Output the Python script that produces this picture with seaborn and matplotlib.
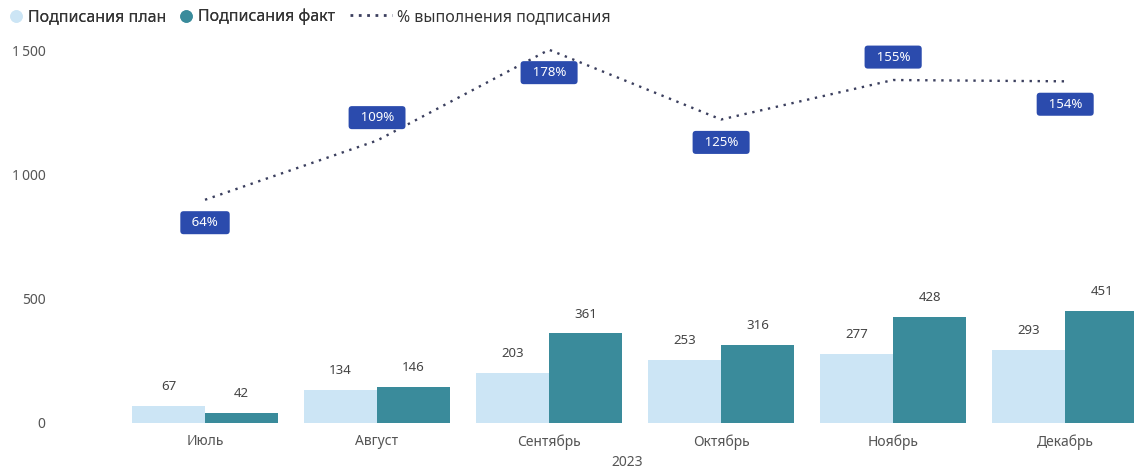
import numpy as np
import pandas as pd
import matplotlib
matplotlib.use("Agg")
import matplotlib.pyplot as plt
from matplotlib.lines import Line2D
import seaborn as sns

months = ["Июль", "Август", "Сентябрь", "Октябрь", "Ноябрь", "Декабрь"]
plan = [67, 134, 203, 253, 277, 293]
fact = [42, 146, 361, 316, 428, 451]
pct = [0.64, 1.09, 1.78, 1.25, 1.55, 1.54]
year_label = "2023"
series_names = ["Подписания план", "Подписания факт", "% выполнения подписания"]
y_ticks = [0, 500, 1000, 1500]
y_tick_labels = ["0", "500", "1\u2009000", "1\u2009500"]

# style
plan_color = "#cce5f5"
fact_color = "#3a8b9b"
line_color = "#3b3f5e"
box_color = "#2b4bad"
label_side = [-1, 1, -1, -1, 1, -1]  # +1 above, -1 below

sns.set_theme(style="white")
plt.rcParams["font.family"] = ["Noto Sans", "DejaVu Sans"]

df = pd.DataFrame({
    "month": months * 2,
    "value": plan + fact,
    "series": [series_names[0]] * len(months) + [series_names[1]] * len(months),
})

fig = plt.figure(figsize=(11.34, 4.70), dpi=100)
ax = fig.add_axes([55 / 1134, 47 / 470, (1134 - 55) / 1134, (423 - 45) / 470])

sns.barplot(data=df, x="month", y="value", hue="series", order=months,
            hue_order=series_names[:2], palette=[plan_color, fact_color],
            width=0.85, gap=0, saturation=1, linewidth=0, ax=ax, legend=False)

for cont in ax.containers:
    for rect in cont:
        h = rect.get_height()
        ax.annotate(f"{h:.0f}", (rect.get_x() + rect.get_width() / 2, h),
                    xytext=(0, 14), textcoords="offset points",
                    ha="center", va="center", fontsize=9.5, color="#444444")

ax.set_xlim(-0.872, 5.40)
ax.set_ylim(0, 1524)
ax.set_yticks(y_ticks)
ax.set_yticklabels(y_tick_labels)
ax.tick_params(axis="y", length=0, pad=7, labelsize=10, labelcolor="#555555")
ax.tick_params(axis="x", length=0, pad=8, labelsize=10, labelcolor="#555555")
ax.set_xlabel("")
ax.set_ylabel("")
for s in ax.spines.values():
    s.set_visible(False)
ax.text((627 - 55) / 1079, -0.105, year_label, transform=ax.transAxes,
        ha="center", va="center", fontsize=10, color="#555555")

ax2 = ax.twinx()
sns.lineplot(x=np.arange(len(months)), y=pct, ax=ax2, color=line_color,
             linestyle=(0, (1, 2.4)), linewidth=1.7)
ax2.set_ylim(-1.056, 1.816)
ax2.set_yticks([])
ax2.set_ylabel("")
for s in ax2.spines.values():
    s.set_visible(False)

for i, (v, side) in enumerate(zip(pct, label_side)):
    ax2.annotate(f"\u2002{v * 100:.0f}%\u2002", (i, v), xytext=(0, 16.5 * side),
                 textcoords="offset points", ha="center", va="center",
                 fontsize=9.5, color="white",
                 bbox=dict(boxstyle="round,pad=0.38,rounding_size=0.25",
                           fc=box_color, ec="none"))

bar_handles = [
    Line2D([], [], marker="o", linestyle="none", markerfacecolor=plan_color,
           markeredgecolor=plan_color, markersize=8),
    Line2D([], [], marker="o", linestyle="none", markerfacecolor=fact_color,
           markeredgecolor=fact_color, markersize=8),
]
line_handle = [Line2D([], [], color=line_color, linestyle=(0, (1, 2.0)), linewidth=2)]

leg1 = fig.legend(bar_handles, series_names[:2], loc="center left",
                  bbox_to_anchor=(4 / 1134, 1 - 17 / 470), ncol=2, frameon=False,
                  fontsize=11.5, handlelength=0.7, handletextpad=0.4,
                  columnspacing=0.9, labelcolor="#333333", borderaxespad=0)
fig.add_artist(leg1)
fig.legend(line_handle, series_names[2:], loc="center left",
           bbox_to_anchor=(344 / 1134, 1 - 17 / 470), frameon=False,
           fontsize=11.5, handlelength=2.6, handletextpad=0.3,
           labelcolor="#333333", borderaxespad=0)

fig.savefig("out.png", dpi=100, facecolor="white")
